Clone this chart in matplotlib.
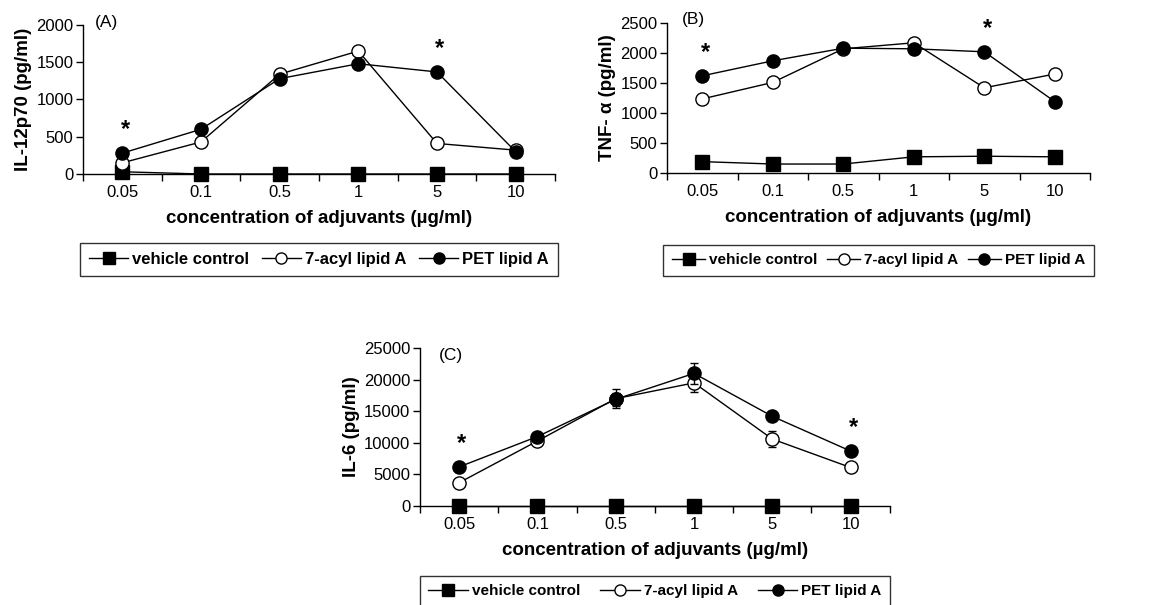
import matplotlib
matplotlib.use("Agg")
import matplotlib.pyplot as plt
from matplotlib.lines import Line2D
import numpy as np

plt.rcParams['font.family'] = ['Liberation Sans', 'DejaVu Sans']

concentrations = ["0.05", "0.1", "0.5", "1", "5", "10"]
series_names = ["vehicle control", "7-acyl lipid A", "PET lipid A"]

# Panel A: IL-12p70 (pg/ml)
il12_vehicle = [30, 0, 0, 0, 0, 0]
il12_acyl7 = [150, 430, 1340, 1650, 410, 320]
il12_pet = [280, 600, 1280, 1480, 1370, 300]
il12_stars = [0, 4]

# Panel B: TNF-alpha (pg/ml)
tnf_vehicle = [190, 150, 150, 270, 280, 270]
tnf_acyl7 = [1235, 1510, 2070, 2170, 1420, 1650]
tnf_pet = [1620, 1870, 2080, 2070, 2020, 1190]
tnf_stars = [0, 4]

# Panel C: IL-6 (pg/ml)
il6_vehicle = [0, 0, 0, 0, 0, 0]
il6_acyl7 = [3700, 10300, 17000, 19500, 10600, 6100]
il6_pet = [6200, 11000, 16900, 21000, 14200, 8700]
il6_acyl7_err = [300, 400, 1500, 1400, 1200, 300]
il6_pet_err = [300, 400, 1000, 1700, 500, 300]
il6_stars = [0, 5]

fig = plt.figure(figsize=(11.54, 6.05), dpi=100)

def panel(rect, veh, acyl, pet, ymax, ystep, ylabel, tag, stars, tagpos,
          legend_y, leg_font, leg_hl, leg_cs, acyl_err=None, pet_err=None):
    ax = fig.add_axes(rect)
    x = np.arange(len(concentrations))
    ax.plot(x, veh, '-', color='black', lw=1.0, marker='s', ms=10.5,
            mfc='black', mec='black', clip_on=False, zorder=3)
    ax.errorbar(x, acyl, yerr=acyl_err, fmt='-o', color='black', lw=1.0,
                ms=9.5, mfc='white', mec='black', mew=1.0, capsize=3,
                elinewidth=1.0, clip_on=False, zorder=4)
    ax.errorbar(x, pet, yerr=pet_err, fmt='-o', color='black', lw=1.0,
                ms=9.5, mfc='black', mec='black', capsize=3, elinewidth=1.0,
                clip_on=False, zorder=5)
    for i in stars:
        top = max(acyl[i], pet[i])
        ax.annotate('*', xy=(x[i], top), xytext=(2, 17),
                    textcoords='offset points', ha='center', va='center',
                    fontsize=17, fontweight='bold')
    ax.set_xlim(-0.5, len(concentrations) - 0.5)
    ax.set_ylim(0, ymax)
    ax.set_yticks(np.arange(0, ymax + 1, ystep))
    ax.set_xticks(x)
    ax.set_xticklabels(concentrations)
    ax.set_xticks(np.arange(-0.5, len(concentrations)), minor=True)
    ax.tick_params(axis='x', which='major', length=0, labelsize=12, pad=8)
    ax.tick_params(axis='x', which='minor', length=5, width=1.0, direction='out')
    ax.tick_params(axis='y', length=5, width=1.0, labelsize=12, pad=2)
    for s in ['top', 'right']:
        ax.spines[s].set_visible(False)
    for s in ['left', 'bottom']:
        ax.spines[s].set_linewidth(1.0)
    ax.set_xlabel('concentration of adjuvants (µg/ml)', fontsize=13.5,
                  fontweight='bold', labelpad=7)
    ax.set_ylabel(ylabel, fontsize=13.5, fontweight='bold', labelpad=3)
    ax.text(tagpos[0], tagpos[1], tag, transform=ax.transAxes, fontsize=12.5,
            ha='left', va='top')
    handles = [
        Line2D([], [], color='black', lw=1.0, marker='s', ms=9,
               mfc='black', mec='black'),
        Line2D([], [], color='black', lw=1.0, marker='o', ms=8,
               mfc='white', mec='black'),
        Line2D([], [], color='black', lw=1.0, marker='o', ms=8,
               mfc='black', mec='black'),
    ]
    leg = ax.legend(handles, series_names, loc='upper center',
                    bbox_to_anchor=(0.5, legend_y), ncol=3,
                    frameon=True, fancybox=False, edgecolor='black',
                    prop={'weight': 'bold', 'size': leg_font},
                    handlelength=leg_hl, columnspacing=leg_cs,
                    handletextpad=0.25, borderpad=0.55, borderaxespad=0)
    leg.get_frame().set_linewidth(1.0)
    return ax

panel([0.0719, 0.7124, 0.409, 0.2463], il12_vehicle, il12_acyl7, il12_pet,
      2000, 500, 'IL-12p70 (pg/ml)', '(A)', il12_stars, (0.025, 1.07), -0.463,
      12, 2.3, 0.8)
panel([0.578, 0.714, 0.3666, 0.248], tnf_vehicle, tnf_acyl7, tnf_pet,
      2500, 500, 'TNF- α (pg/ml)', '(B)', tnf_stars, (0.035, 1.07), -0.48,
      11, 2.2, 0.6)
panel([0.364, 0.1636, 0.407, 0.261], il6_vehicle, il6_acyl7, il6_pet,
      25000, 5000, 'IL-6 (pg/ml)', '(C)', il6_stars, (0.04, 1.0), -0.443,
      11, 2.6, 1.3, il6_acyl7_err, il6_pet_err)

fig.savefig('out.png', dpi=100)
